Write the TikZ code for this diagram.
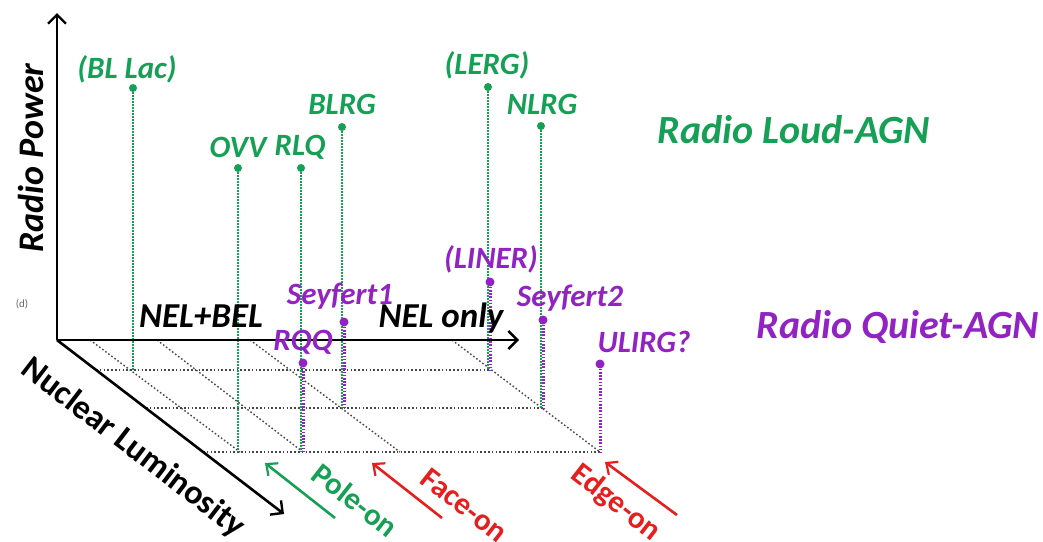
\documentclass[tikz,border=0pt]{standalone}
\usepackage{fontspec}
\setmainfont{Carlito}
\usetikzlibrary{arrows.meta}
\definecolor{agngreen}{RGB}{22,160,85}
\definecolor{agnpurple}{RGB}{145,35,195}
\definecolor{agnred}{RGB}{230,30,30}
\tikzset{
  axis/.style={line width=2.6pt, -{Straight Barb[length=9pt,width=18pt,line width=2.4pt]}},
  gridline/.style={line width=1.4pt, gray!55!black, dash pattern=on 1.6pt off 2.2pt},
  gstem/.style={line width=2pt, agngreen, dash pattern=on 1.4pt off 1.6pt},
  pstem/.style={line width=3pt, agnpurple, dash pattern=on 1.6pt off 1.6pt},
  gdot/.style={circle, fill=agngreen, inner sep=0pt, minimum size=8pt},
  pdot/.style={circle, fill=agnpurple, inner sep=0pt, minimum size=9pt},
  glabel/.style={text=agngreen, font=\fontsize{31}{34}\selectfont\bfseries\itshape, inner sep=0pt},
  plabel/.style={text=agnpurple, font=\fontsize{31}{34}\selectfont\bfseries\itshape, inner sep=0pt},
  biglabel/.style={font=\fontsize{40}{44}\selectfont\bfseries\itshape, inner sep=0pt},
  axlabel/.style={font=\fontsize{34}{40}\selectfont\bfseries, inner sep=0pt},
  blacklabel/.style={font=\fontsize{35}{38}\selectfont\bfseries\itshape, inner sep=0pt},
  viewarrow/.style={line width=2.6pt, -{Straight Barb[length=9pt,width=16pt,line width=2.2pt]}},
  viewlabel/.style={font=\fontsize{31}{34}\selectfont\bfseries, inner sep=0pt, rotate=-38}
}
\begin{document}
\begin{tikzpicture}[x=1pt,y=-1pt]
\useasboundingbox (0,0) rectangle (1043,541);
% grid
\draw[gridline] (96,370) -- (490,370);
\draw[gridline] (146,408) -- (543,408);
\draw[gridline] (203,452) -- (600,452);
\draw[gridline] (90,340) -- (240,452);
\draw[gridline] (157,340) -- (303,452);
\draw[gridline] (250,340) -- (400,452);
\draw[gridline] (452,340) -- (600,452);
% feet
\coordinate (fBL) at (133,370);
\coordinate (fOVV) at (238,452);
\coordinate (fRLQ) at (301,452);
\coordinate (fRQQ) at (303,452);
\coordinate (fBLRG) at (342,408);
\coordinate (fSy1) at (344,408);
\coordinate (fLERG) at (488,370);
\coordinate (fLINER) at (490,370);
\coordinate (fNLRG) at (541,408);
\coordinate (fSy2) at (543,408);
\coordinate (fULIRG) at (600,452);
% green dots and stems
\node[gdot] (dBL) at (133,88) {};
\node[gdot] (dOVV) at (238,168) {};
\node[gdot] (dRLQ) at (301,168) {};
\node[gdot] (dBLRG) at (342,127) {};
\node[gdot] (dLERG) at (488,87) {};
\node[gdot] (dNLRG) at (541,126) {};
\draw[gstem] (dBL) -- (fBL);
\draw[gstem] (dOVV) -- (fOVV);
\draw[gstem] (dRLQ) -- (fRLQ);
\draw[gstem] (dBLRG) -- (fBLRG);
\draw[gstem] (dLERG) -- (fLERG);
\draw[gstem] (dNLRG) -- (fNLRG);
% purple dots and stems
\node[pdot] (dRQQ) at (303,363) {};
\node[pdot] (dSy1) at (344,322) {};
\node[pdot] (dLINER) at (490,282) {};
\node[pdot] (dSy2) at (543,320) {};
\node[pdot] (dULIRG) at (600,364) {};
\draw[pstem] (dRQQ) -- (fRQQ);
\draw[pstem] (dSy1) -- (fSy1);
\draw[pstem] (dLINER) -- (fLINER);
\draw[pstem] (dSy2) -- (fSy2);
\draw[pstem] (dULIRG) -- (fULIRG);
% axes
\coordinate (O) at (57,340);
\coordinate (yEnd) at (57,13);
\coordinate (xEnd) at (519,340);
\coordinate (zEnd) at (284,514);
\draw[axis] (O) -- (yEnd);
\draw[axis] (O) -- (xEnd);
\draw[axis] (O) -- (zEnd);
% labels
\node[glabel] (lBL) at (127,69) {(BL Lac)};
\node[glabel] (lOVV) at (238,147) {OVV};
\node[glabel] (lRLQ) at (300,147) {RLQ};
\node[glabel] (lBLRG) at (342,104) {BLRG};
\node[glabel] (lLERG) at (487,65) {(LERG)};
\node[glabel] (lNLRG) at (542,104) {NLRG};
\node[plabel] (lLINER) at (491,259) {(LINER)};
\node[plabel] (lSy1) at (340,296) {Seyfert1};
\node[plabel] (lSy2) at (570,298) {Seyfert2};
\node[plabel] (lRQQ) at (303,342) {RQQ};
\node[plabel] (lULIRG) at (644,342) {ULIRG?};
\node[biglabel, text=agngreen] (lRL) at (794,130) {Radio Loud-AGN};
\node[biglabel, text=agnpurple] (lRQ) at (898,327) {Radio Quiet-AGN};
\node[blacklabel] (lNB) at (201,316) {NEL+BEL};
\node[blacklabel] (lNO) at (441,318) {NEL only};
\node[axlabel, font=\fontsize{36}{40}\selectfont\bfseries\itshape, rotate=90] (lRP) at (31,158) {Radio Power};
\node[axlabel, rotate=-37.5] (lNL) at (133,448) {Nuclear Luminosity};
\node[text=gray!80!black, font=\fontsize{11}{12}\selectfont, inner sep=0pt] (ld) at (22,304) {(d)};
% viewing arrows
\coordinate (pT) at (335,518);
\coordinate (pH) at (265,463);
\coordinate (fT) at (442,518);
\coordinate (fH) at (372,463);
\coordinate (eT) at (677,515);
\coordinate (eH) at (605,462);
\draw[viewarrow, agngreen] (pT) -- (pH);
\draw[viewarrow, agnred] (fT) -- (fH);
\draw[viewarrow, agnred] (eT) -- (eH);
\node[viewlabel, text=agngreen] (lPole) at (355,500) {Pole-on};
\node[viewlabel, text=agnred] (lFace) at (464,505) {Face-on};
\node[viewlabel, text=agnred] (lEdge) at (616,503) {Edge-on};
\end{tikzpicture}
\end{document}
